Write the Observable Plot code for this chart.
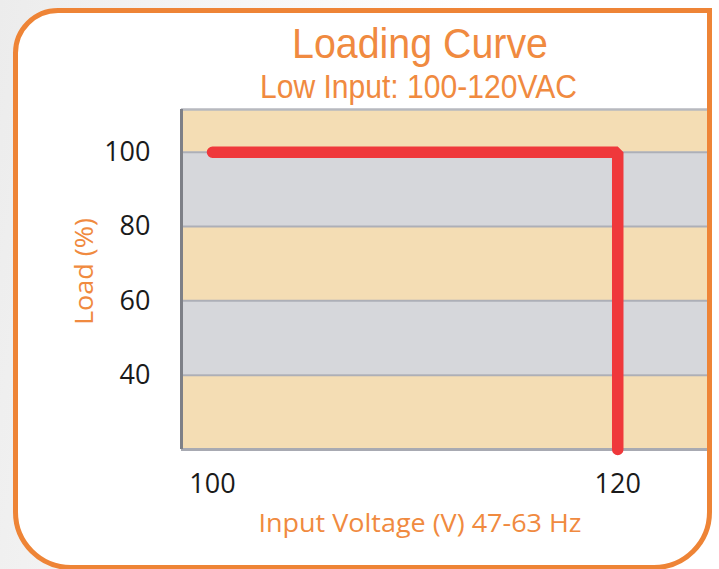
<!DOCTYPE html>
<html>
<head>
<meta charset="utf-8">
<script src="https://cdn.jsdelivr.net/npm/d3@7"></script>
<script src="https://cdn.jsdelivr.net/npm/@observablehq/plot@0.6"></script>
<style>
  html, body { margin: 0; padding: 0; }
  body { width: 719px; height: 569px; overflow: hidden; position: relative;
         background: linear-gradient(100deg, #ececec 0%, #f6f6f6 30%, #ffffff 60%); font-family: "Open Sans", sans-serif; }
  #box { position: absolute; left: 13px; top: 8px; width: 689px; height: 552px;
         border: 5px solid #ee8436; border-radius: 45px 0 58px 58px; background: #fff; }
  #chart { position: absolute; left: 0; top: 0; }
  #overlay { position: absolute; left: 0; top: 0; pointer-events: none; }
</style>
</head>
<body>
<div id="box"></div>
<div id="chart"></div>
<svg id="overlay" width="719" height="569" font-family="Open Sans, sans-serif" fill="#f08a40">
  <text x="420" y="58" font-family="Liberation Sans, Arial, sans-serif" font-size="42" text-anchor="middle" textLength="256" lengthAdjust="spacingAndGlyphs">Loading Curve</text>
  <text x="418.5" y="97.5" font-family="Liberation Sans, Arial, sans-serif" font-size="33" text-anchor="middle" textLength="317" lengthAdjust="spacingAndGlyphs">Low Input: 100-120VAC</text>
  <text x="420" y="531.7" font-size="26" text-anchor="middle" textLength="323" lengthAdjust="spacingAndGlyphs">Input Voltage (V) 47-63 Hz</text>
  <text transform="translate(93.3,271.5) rotate(-90)" font-size="26" text-anchor="middle" textLength="107" lengthAdjust="spacingAndGlyphs">Load (%)</text>
</svg>
<script>
// Data
const voltage = [100, 120, 120];
const load = [100, 100, 20];
const xTicks = [100, 120];
const yTicks = [40, 60, 80, 100];
const bandLow = [20, 40, 60, 80, 100];
const bandHigh = [40, 60, 80, 100, 111.5];

const curve = voltage.map((v, i) => ({v, l: load[i]}));
const bands = bandLow.map((lo, i) => ({lo, hi: bandHigh[i], k: i}));

const tan = "#f4ddb4";
const gray = "#d6d7db";

const chart = Plot.plot({
  width: 719,
  height: 569,
  marginLeft: 181,
  marginRight: 12,
  marginTop: 109,
  marginBottom: 120,
  style: {fontFamily: "Open Sans, sans-serif", fontSize: "27px", color: "#1a1a1a", background: "transparent", overflow: "visible"},
  color: {type: "identity"},
  x: {domain: [98.47, 124.43], label: null},
  y: {domain: [20, 111.5], label: null},
  marks: [
    Plot.rect(bands, {y1: "lo", y2: "hi", fill: d => d.k % 2 === 0 ? tan : gray}),
    Plot.ruleY(yTicks, {stroke: "#adafb7", strokeWidth: 2}),
    Plot.ruleY([111.5], {stroke: "#b7b9bf", strokeWidth: 2.5}),
    Plot.ruleY([20], {stroke: "#a8aab2", strokeWidth: 3}),
    Plot.ruleX([98.47], {stroke: "#7e8087", strokeWidth: 3}),
    Plot.line(curve, {x: "v", y: "l", stroke: "#ef383b", strokeWidth: 11.5, strokeLinecap: "round", strokeLinejoin: "miter"}),
    Plot.axisX(xTicks, {tickSize: 0, tickPadding: 24, label: null, fill: "#1a1a1a"}),
    Plot.axisY(yTicks, {tickSize: 0, tickPadding: 31, label: null, fill: "#1a1a1a"})
  ]
});
document.getElementById("chart").appendChild(chart);
</script>
</body>
</html>
